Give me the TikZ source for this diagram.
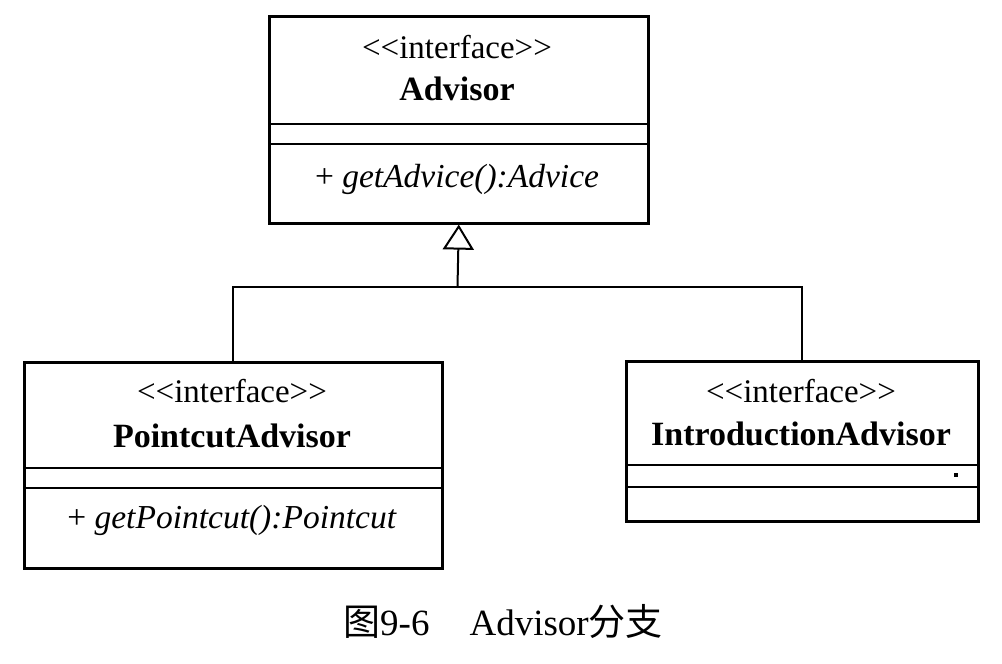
\documentclass[tikz,border=0pt]{standalone}
\usepackage{fontspec}
\setmainfont{Liberation Serif}
\newfontfamily\cjk{Noto Sans CJK SC}
\usepackage{tikz}
\usetikzlibrary{arrows.meta, positioning}

\newcommand{\stereotype}[1]{{<}{<}#1{>}{>}}

\tikzset{
  classbox/.style={draw, line width=2.6pt, inner sep=0pt, anchor=north west},
  divider/.style={line width=2pt},
  conn/.style={line width=2pt},
  stereo/.style={anchor=base, font=\fontsize{33}{38}\selectfont},
  clsname/.style={anchor=base, font=\fontsize{34}{40}\selectfont\bfseries},
  method/.style={anchor=base, font=\fontsize{33.5}{40}\selectfont},
}

\begin{document}
\begin{tikzpicture}[x=1pt, y=-1pt]
    \useasboundingbox (0,0) rectangle (1002,664);
    % interface boxes
    \node[classbox, minimum width=379pt, minimum height=207pt] (adv) at (268,15) {};
    \node[classbox, minimum width=418pt, minimum height=206pt] (pcadv) at (23,361) {};
    \node[classbox, minimum width=352pt, minimum height=160pt] (intadv) at (625,360) {};
    % texts
    \node[stereo] (advst) at (457,58) {\stereotype{interface}};
    \node[clsname] (advnm) at (457,100) {Advisor};
    \node[method] (advmt) at (457,187) {+ \textit{getAdvice():Advice}};
    \node[stereo] (pcst) at (232,402) {\stereotype{interface}};
    \node[clsname] (pcnm) at (232,447) {PointcutAdvisor};
    \node[method] (pcmt) at (232,528) {+ \textit{getPointcut():Pointcut}};
    \node[stereo] (intst) at (801,402) {\stereotype{interface}};
    \node[clsname] (intnm) at (801,445) {IntroductionAdvisor};
    % compartments
    \draw[divider] ([yshift=-109pt]adv.north west) -- ([yshift=-109pt]adv.north east);
    \draw[divider] ([yshift=-129pt]adv.north west) -- ([yshift=-129pt]adv.north east);
    \draw[divider] ([yshift=-107pt]pcadv.north west) -- ([yshift=-107pt]pcadv.north east);
    \draw[divider] ([yshift=-127pt]pcadv.north west) -- ([yshift=-127pt]pcadv.north east);
    \draw[divider] ([yshift=-105pt]intadv.north west) -- ([yshift=-105pt]intadv.north east);
    \draw[divider] ([yshift=-127pt]intadv.north west) -- ([yshift=-127pt]intadv.north east);
    \fill (954,473) rectangle (958,477);
    % generalization
    \coordinate (junc) at (457.5,287);
    \draw[conn] (pcadv.north) |- (junc);
    \draw[conn] (intadv.north) |- (junc);
    \draw[conn, -{Triangle[open, length=25pt, width=31pt]}] (junc) -- (adv.south);
    % caption
    \node[anchor=base, font=\fontsize{37}{44}\selectfont] (cap) at (503,635)
      {{\cjk 图}9-6\hspace{40pt}Advisor{\cjk 分支}};
\end{tikzpicture}
\end{document}
